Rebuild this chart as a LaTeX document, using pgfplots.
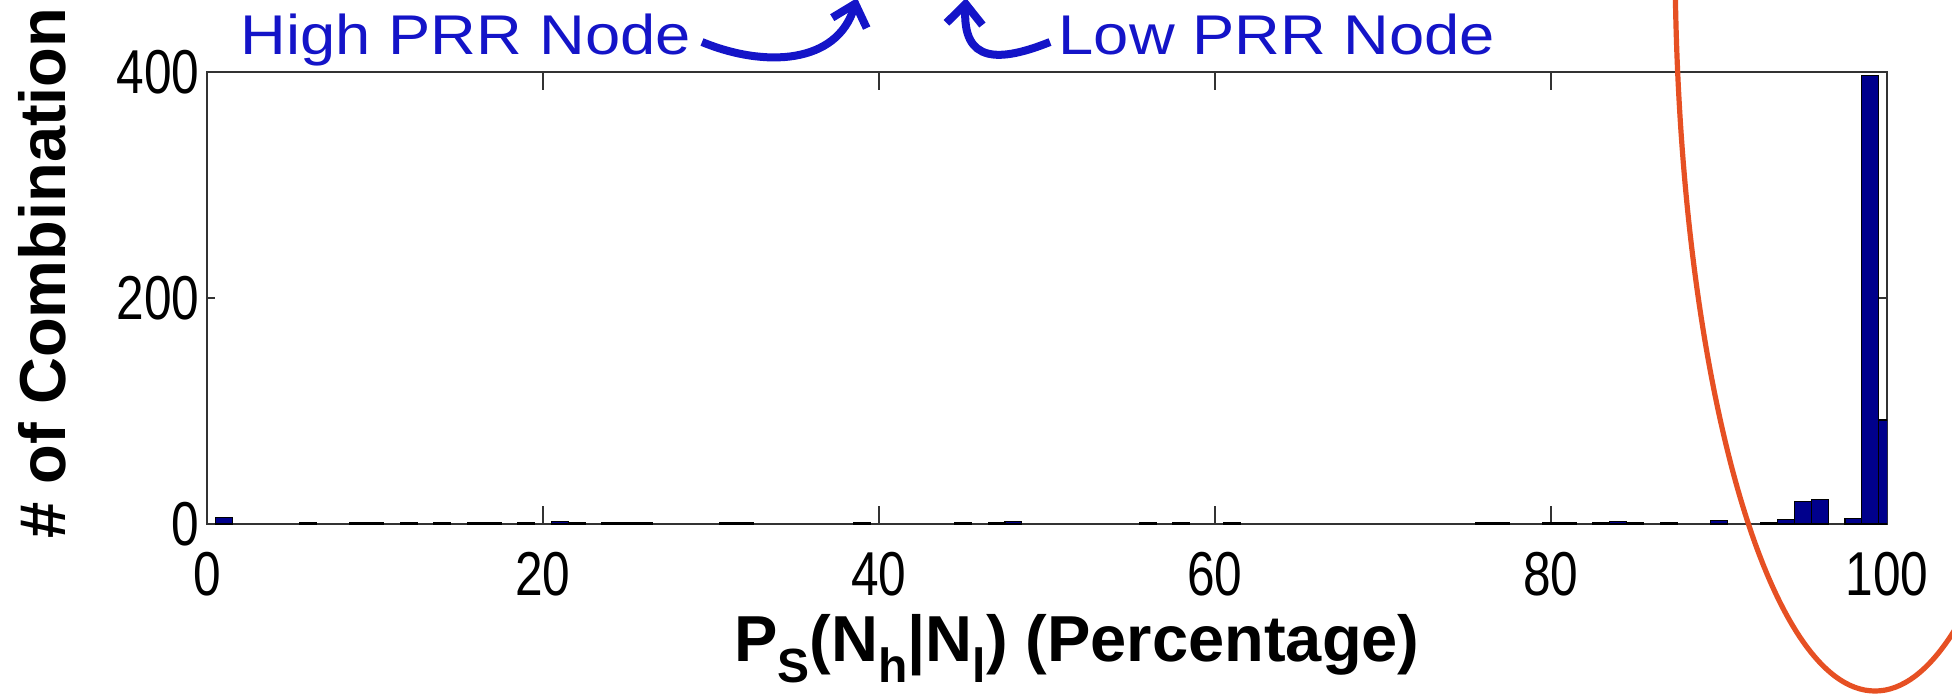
\documentclass[border=0pt]{standalone}
\usepackage{pgfplots}
\pgfplotsset{compat=1.18}
\usepackage{fontspec}
\setmainfont{Liberation Sans}
\newfontfamily\annfont{Liberation Sans}[FakeStretch=1.13]
\newfontfamily\tickfont{Liberation Sans}[FakeStretch=0.8]
\usetikzlibrary{arrows.meta}
\definecolor{barblue}{RGB}{0,0,140}
\definecolor{annblue}{RGB}{20,20,200}
\definecolor{ellred}{RGB}{230,80,35}

\pgfplotstableread{
x y
1 6
6 1
9 1
10 1
12 1
14 1
16 1
17 1
19 1
21 2
22 1
24 1
25 1
26 1
31 1
32 1
39 1
45 1
47 1
48 2
56 1
58 1
61 1
76 1
77 1
80 1
81 1
83 1
84 2
85 1
87 1
90 3
93 1
94 4
95 20
96 22
98 5
99 397
100 92
}\histdata

\begin{document}
\begin{tikzpicture}
\useasboundingbox (0,0) rectangle (488pt,-174.75pt);
\clip (0,0) rectangle (488pt,-174.75pt);
\begin{axis}[
  at={(51.75pt,-131pt)}, anchor=south west,
  scale only axis, width=420pt, height=113pt,
  xmin=0, xmax=100, ymin=0, ymax=400,
  xtick={0,20,40,60,80,100}, ytick={0,200,400},
  tick align=inside,
  major tick length=4.5pt,
  ytick style={/pgfplots/major tick length=2pt},
  axis line style={line width=0.5pt, black!80},
  tick style={line width=0.5pt, black!80},
  tick label style={font=\tickfont\fontsize{15.5}{18}\selectfont},
  /pgf/number format/assume math mode=true,
  xticklabel style={inner sep=0pt, anchor=north, yshift=-6.75pt},
  yticklabel style={inner sep=0pt, anchor=east, xshift=-1.75pt},
]
\addplot[ybar, bar width=1, bar shift=0pt, fill=barblue, draw=black, line width=0.3pt] table[x=x,y=y] {\histdata};
\end{axis}
\begin{scope}[x=0.25pt,y=-0.25pt]
\node[rotate=90, font=\fontsize{16.25}{19}\selectfont\bfseries, inner sep=0pt] at (42,273) {\# of Combination};
\node[font=\fontsize{16.25}{19}\selectfont\bfseries, anchor=base, inner sep=0pt] at (1077,661)
  {P\raisebox{-0.33em}{\fontsize{12}{14}\selectfont S}(N\raisebox{-0.33em}{\fontsize{12}{14}\selectfont h}|N\raisebox{-0.33em}{\fontsize{12}{14}\selectfont l}) (Percentage)};
\node[font=\annfont\fontsize{14}{16}\selectfont, anchor=base west, inner sep=0pt, text=annblue] at (240,54) {High PRR Node};
\node[font=\annfont\fontsize{14}{16}\selectfont, anchor=base west, inner sep=0pt, text=annblue] at (1058,54) {Low PRR Node};
\draw[annblue, line width=2pt, -{Straight Barb[length=5pt,width=9pt]}] (702,42) .. controls (765,68) and (837,64) .. (857,-2);
\draw[annblue, line width=2pt, -{Straight Barb[length=5pt,width=9pt]}] (1050,42) .. controls (1000,62) and (962,64) .. (966,-2);
\draw[ellred, line width=1.3pt] (1875,-49) ellipse [x radius=200, y radius=740];
\end{scope}
\end{tikzpicture}
\end{document}
